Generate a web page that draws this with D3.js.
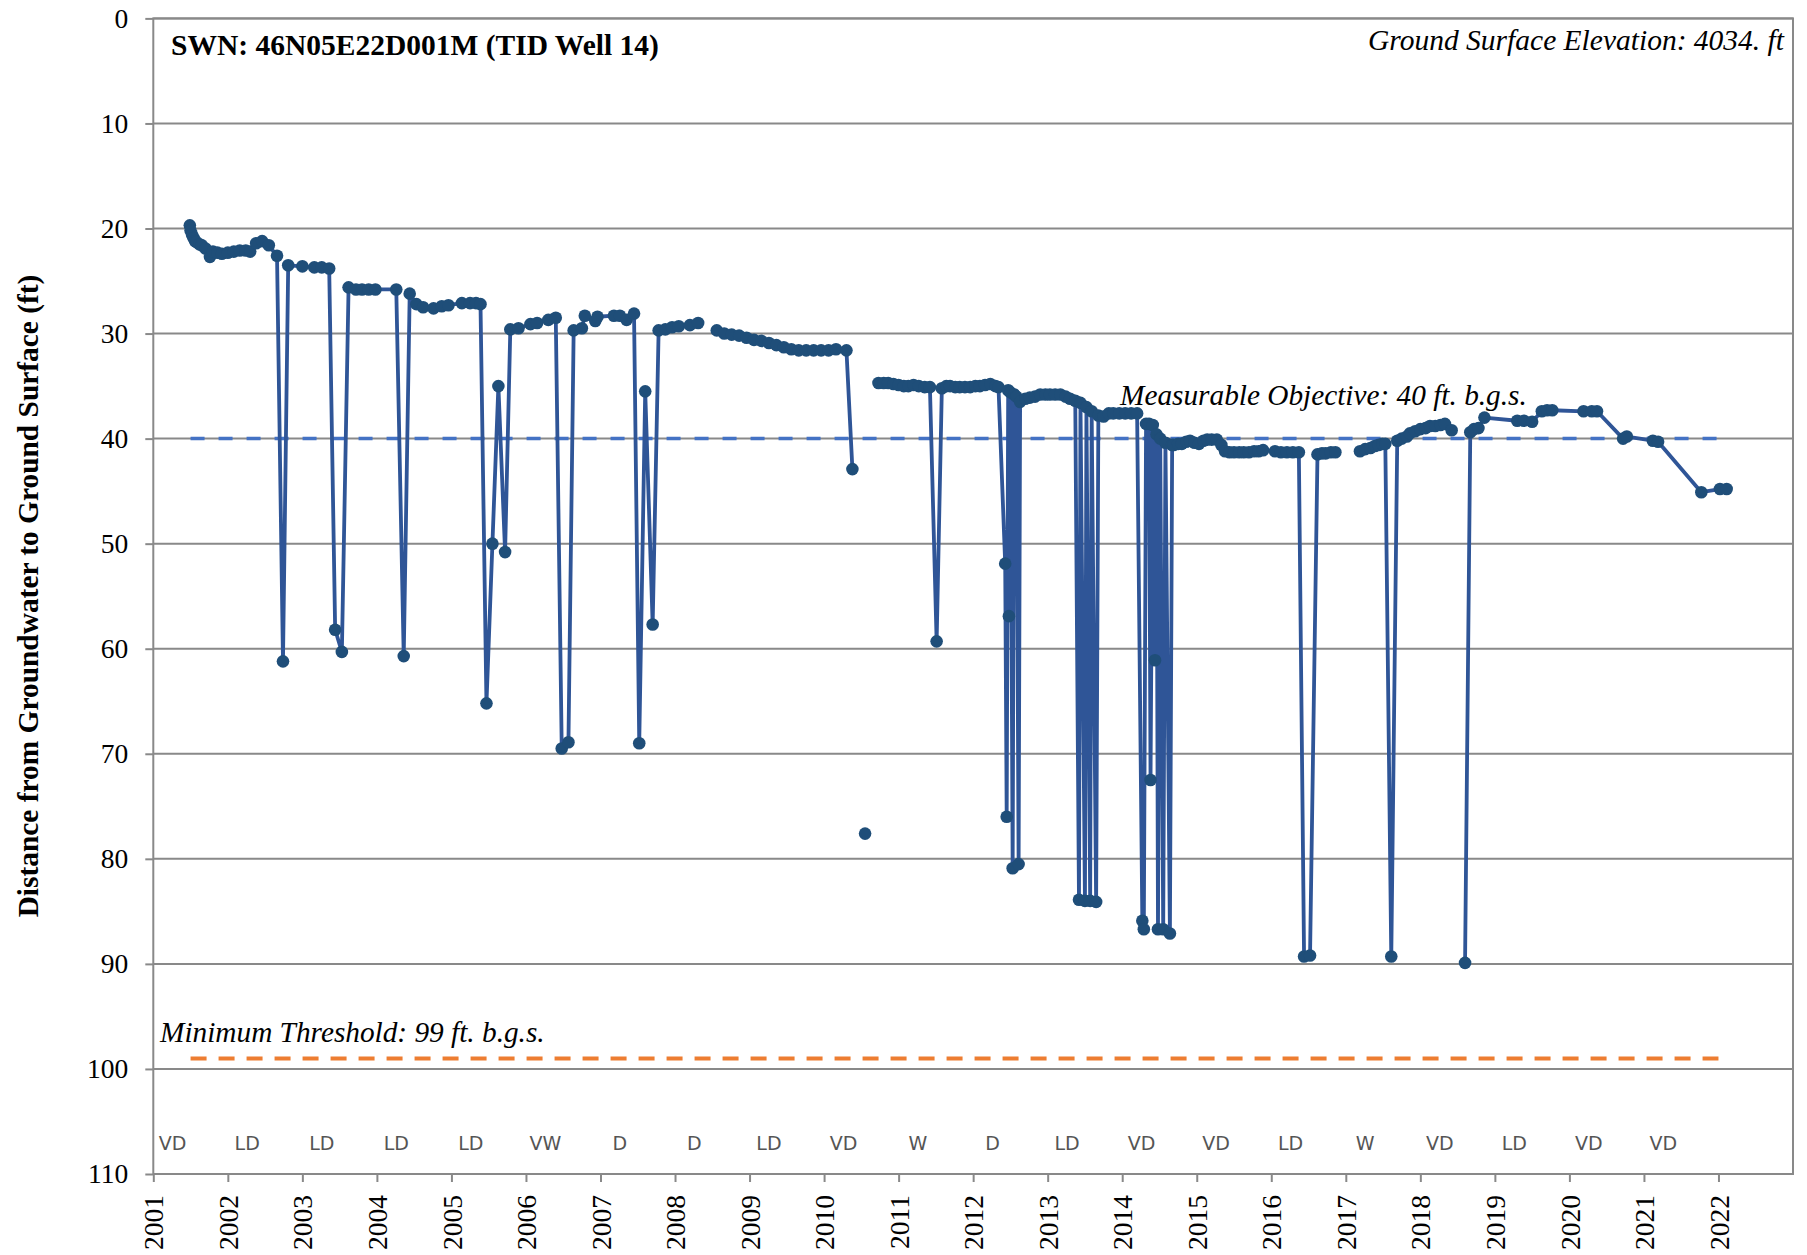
<!DOCTYPE html>
<html>
<head>
<meta charset="utf-8">
<script src="https://cdn.jsdelivr.net/npm/d3@7"></script>
<style>
  html, body { margin: 0; padding: 0; background: #fff; }
  svg { display: block; }
</style>
</head>
<body>
<div id="chart"></div>
<script>
// measurement dates (decimal years) and depths to water (ft b.g.s.); null = break in the record
const obsDates = [
  2001.49, 2001.50, 2001.52, 2001.54, 2001.56, 2001.58, 2001.62, 2001.65, 2001.70, 2001.76,
  2001.80, 2001.86, 2001.92, 2002.00, 2002.08, 2002.16, 2002.24, 2002.30, 2002.38, 2002.46,
  2002.55, 2002.66, 2002.74, 2002.81, 2003.00, 2003.16, 2003.26, 2003.36, 2003.44, 2003.53,
  2003.62, 2003.72, 2003.80, 2003.89, 2003.98, 2004.26, 2004.36, 2004.44, 2004.53, 2004.62,
  2004.76, 2004.87, 2004.96, 2005.14, 2005.25, 2005.33, 2005.39, 2005.47, 2005.55, 2005.63,
  2005.72, 2005.79, 2005.90, 2006.06, 2006.15, 2006.30, 2006.40, 2006.48, 2006.57, 2006.64,
  2006.75, 2006.79, 2006.93, 2006.96, 2007.18, 2007.26, 2007.35, 2007.45, 2007.52, 2007.60,
  2007.70, 2007.78, 2007.87, 2007.96, 2008.05, 2008.20, 2008.31, null,
  2008.56, 2008.66, 2008.76, 2008.86, 2008.96, 2009.06, 2009.16, 2009.26, 2009.36, 2009.46,
  2009.56, 2009.66, 2009.76, 2009.86, 2009.96, 2010.06, 2010.16, 2010.30, 2010.38, null,
  2010.55, null,
  2010.73, 2010.80, 2010.86, 2010.93, 2011.00, 2011.07, 2011.13, 2011.20, 2011.27, 2011.35,
  2011.42, 2011.51, 2011.58, 2011.64, 2011.69, 2011.76, 2011.82, 2011.89, 2011.96, 2012.03,
  2012.09, 2012.16, 2012.23, 2012.30, 2012.34, 2012.43, 2012.45, 2012.47, 2012.48, 2012.50,
  2012.53, 2012.55, 2012.58, 2012.61, 2012.63, 2012.70, 2012.76, 2012.83, 2012.90, 2012.97,
  2013.03, 2013.10, 2013.17, 2013.24, 2013.30, 2013.37, 2013.42, 2013.44, 2013.50, 2013.52,
  2013.57, 2013.59, 2013.65, 2013.68, 2013.75, 2013.82, 2013.88, 2013.96, 2014.04, 2014.12,
  2014.20, 2014.27, 2014.29, 2014.32, 2014.36, 2014.38, 2014.41, 2014.44, 2014.46, 2014.48,
  2014.51, 2014.55, 2014.58, 2014.64, 2014.67, 2014.69, 2014.75, 2014.80, 2014.86, 2014.91,
  2014.97, 2015.03, 2015.09, 2015.14, 2015.20, 2015.27, 2015.33, 2015.38, 2015.44, 2015.50,
  2015.57, 2015.63, 2015.70, 2015.77, 2015.83, 2015.89, null,
  2016.05, 2016.13, 2016.21, 2016.29, 2016.37, 2016.44, 2016.52, 2016.62, 2016.68, 2016.73,
  2016.80, 2016.86, null,
  2017.19, 2017.26, 2017.33, 2017.39, 2017.44, 2017.49, 2017.53, 2017.61, 2017.69, 2017.75,
  2017.82, 2017.86, 2017.93, 2018.00, 2018.07, 2018.13, 2018.20, 2018.27, 2018.33, 2018.42,
  null,
  2018.60, 2018.67, 2018.72, 2018.78, 2018.86, 2019.30, 2019.39, 2019.50, 2019.63, 2019.70,
  2019.77, 2020.19, 2020.30, 2020.37, 2020.72, 2020.77, 2021.12, 2021.19, 2021.77, 2022.02,
  2022.11,
];

const obsDepths = [
  19.7, 20.2, 20.6, 20.9, 21.2, 21.3, 21.5, 21.6, 21.9, 22.7,
  22.2, 22.3, 22.4, 22.3, 22.2, 22.1, 22.1, 22.2, 21.4, 21.2,
  21.6, 22.6, 61.2, 23.5, 23.6, 23.7, 23.7, 23.8, 58.2, 60.3,
  25.6, 25.8, 25.8, 25.8, 25.8, 25.8, 60.7, 26.2, 27.2, 27.5,
  27.6, 27.4, 27.3, 27.1, 27.1, 27.1, 27.2, 65.2, 50.0, 35.0,
  50.8, 29.6, 29.5, 29.1, 29.0, 28.7, 28.5, 69.5, 68.9, 29.7,
  29.5, 28.3, 28.8, 28.4, 28.3, 28.3, 28.7, 28.1, 69.0, 35.5,
  57.7, 29.7, 29.6, 29.4, 29.3, 29.2, 29.0, null,
  29.7, 30.0, 30.1, 30.2, 30.4, 30.6, 30.7, 30.9, 31.1, 31.3,
  31.5, 31.6, 31.6, 31.6, 31.6, 31.6, 31.5, 31.6, 42.9, null,
  77.6, null,
  34.7, 34.7, 34.7, 34.8, 34.9, 35.0, 35.0, 34.9, 35.0, 35.1,
  35.1, 59.3, 35.2, 35.0, 35.0, 35.1, 35.1, 35.1, 35.1, 35.0,
  35.0, 34.9, 34.8, 35.0, 35.1, 51.9, 76.0, 35.4, 56.9, 35.6,
  80.9, 35.8, 36.0, 80.5, 36.5, 36.2, 36.1, 36.0, 35.8, 35.8,
  35.8, 35.8, 35.8, 36.0, 36.2, 36.4, 83.9, 36.6, 84.0, 37.0,
  84.0, 37.4, 84.1, 37.8, 37.9, 37.6, 37.6, 37.6, 37.6, 37.6,
  37.6, 85.9, 86.7, 38.6, 38.6, 72.5, 38.7, 61.1, 39.6, 86.7,
  40.0, 86.7, 40.4, 87.1, 40.6, 40.6, 40.5, 40.5, 40.3, 40.2,
  40.4, 40.5, 40.2, 40.1, 40.1, 40.1, 40.6, 41.2, 41.3, 41.3,
  41.3, 41.3, 41.3, 41.2, 41.2, 41.1, null,
  41.2, 41.3, 41.3, 41.3, 41.3, 89.3, 89.2, 41.5, 41.4, 41.4,
  41.3, 41.3, null,
  41.2, 41.0, 40.9, 40.7, 40.6, 40.5, 40.5, 89.3, 40.2, 40.0,
  39.8, 39.5, 39.3, 39.1, 39.0, 38.8, 38.8, 38.7, 38.6, 39.2,
  null,
  89.9, 39.4, 39.1, 39.0, 38.0, 38.3, 38.3, 38.4, 37.4, 37.3,
  37.3, 37.4, 37.4, 37.4, 40.0, 39.8, 40.2, 40.3, 45.1, 44.8,
  44.8,
];

const yTicks = [0, 10, 20, 30, 40, 50, 60, 70, 80, 90, 100, 110];
const xTicks = [2001, 2002, 2003, 2004, 2005, 2006, 2007, 2008, 2009, 2010, 2011,
  2012, 2013, 2014, 2015, 2016, 2017, 2018, 2019, 2020, 2021, 2022];

const waterYears = [2001, 2002, 2003, 2004, 2005, 2006, 2007, 2008, 2009, 2010, 2011,
  2012, 2013, 2014, 2015, 2016, 2017, 2018, 2019, 2020, 2021];
const waterYearTypes = ['VD', 'LD', 'LD', 'LD', 'LD', 'VW', 'D', 'D', 'LD', 'VD', 'W',
  'D', 'LD', 'VD', 'VD', 'LD', 'W', 'VD', 'LD', 'VD', 'VD'];

const measurableObjective = 40;
const minimumThreshold = 99;
const thresholdSpan = [2001.5, 2022];

const width = 1807;
const height = 1255;
const plotLeft = 153.3;
const plotRight = 1793;
const plotTop = 18.4;
const plotBottom = 1174;

const serif = '"Liberation Serif", "Times New Roman", Times, serif';
const gridColor = '#898989';

const x = d3.scaleLinear().domain([2001, 2023]).range([plotLeft, plotRight]);
const y = d3.scaleLinear().domain([0, 110]).range([plotTop, plotBottom]);

const svg = d3.select('#chart')
  .append('svg')
  .attr('width', width)
  .attr('height', height);

svg.append('rect')
  .attr('width', width)
  .attr('height', height)
  .attr('fill', '#fff');

// gridlines
svg.append('g')
  .selectAll('line')
  .data(yTicks)
  .join('line')
  .attr('x1', plotLeft)
  .attr('x2', plotRight)
  .attr('y1', (d) => y(d))
  .attr('y2', (d) => y(d))
  .attr('stroke', gridColor)
  .attr('stroke-width', 2);

svg.append('rect')
  .attr('x', plotLeft)
  .attr('y', plotTop)
  .attr('width', plotRight - plotLeft)
  .attr('height', plotBottom - plotTop)
  .attr('fill', 'none')
  .attr('stroke', gridColor)
  .attr('stroke-width', 2);

const yAxis = svg.append('g')
  .attr('transform', `translate(${plotLeft},0)`)
  .call(d3.axisLeft(y).tickValues(yTicks).tickSize(8).tickPadding(17));
yAxis.select('.domain').remove();
yAxis.selectAll('line').attr('stroke', gridColor).attr('stroke-width', 2);
yAxis.selectAll('text')
  .attr('font-family', serif)
  .attr('font-size', 27.5)
  .attr('fill', '#000');

const xAxis = svg.append('g')
  .attr('transform', `translate(0,${plotBottom})`)
  .call(d3.axisBottom(x).tickValues(xTicks).tickSize(8).tickFormat(d3.format('d')));
xAxis.select('.domain').remove();
xAxis.selectAll('line').attr('stroke', gridColor).attr('stroke-width', 2);
xAxis.selectAll('text')
  .attr('font-family', serif)
  .attr('font-size', 27.5)
  .attr('fill', '#000')
  .attr('transform', 'rotate(-90)')
  .attr('text-anchor', 'end')
  .attr('x', -21)
  .attr('y', 0)
  .attr('dy', '0.35em');

// threshold lines
svg.append('line')
  .attr('x1', x(thresholdSpan[0]))
  .attr('x2', x(thresholdSpan[1]))
  .attr('y1', y(measurableObjective))
  .attr('y2', y(measurableObjective))
  .attr('stroke', '#4472C4')
  .attr('stroke-width', 3.5)
  .attr('stroke-dasharray', '14,14');

svg.append('line')
  .attr('x1', x(thresholdSpan[0]))
  .attr('x2', x(thresholdSpan[1]))
  .attr('y1', y(minimumThreshold))
  .attr('y2', y(minimumThreshold))
  .attr('stroke', '#ED7D31')
  .attr('stroke-width', 4)
  .attr('stroke-dasharray', '16,12');

const obs = obsDates.map((date, i) => ({ date, depth: obsDepths[i] }));

const line = d3.line()
  .defined((d) => d.depth !== null)
  .x((d) => x(d.date))
  .y((d) => y(d.depth));

svg.append('path')
  .datum(obs)
  .attr('d', line)
  .attr('fill', 'none')
  .attr('stroke', '#2F5597')
  .attr('stroke-width', 3.8)
  .attr('stroke-linejoin', 'round');

svg.append('g')
  .selectAll('circle')
  .data(obs.filter((d) => d.depth !== null))
  .join('circle')
  .attr('cx', (d) => x(d.date))
  .attr('cy', (d) => y(d.depth))
  .attr('r', 6.3)
  .attr('fill', '#1F4E79');

// labels
svg.append('text')
  .attr('x', 171)
  .attr('y', 55)
  .attr('font-family', serif)
  .attr('font-weight', 'bold')
  .attr('font-size', 29.5)
  .text('SWN: 46N05E22D001M (TID Well 14)');

svg.append('text')
  .attr('x', 1784)
  .attr('y', 50)
  .attr('text-anchor', 'end')
  .attr('font-family', serif)
  .attr('font-style', 'italic')
  .attr('font-size', 29.5)
  .text('Ground Surface Elevation: 4034. ft');

svg.append('text')
  .attr('x', 1120)
  .attr('y', y(measurableObjective) - 34)
  .attr('font-family', serif)
  .attr('font-style', 'italic')
  .attr('font-size', 29.3)
  .text(`Measurable Objective: ${measurableObjective} ft. b.g.s.`);

svg.append('text')
  .attr('x', 160)
  .attr('y', y(minimumThreshold) - 16)
  .attr('font-family', serif)
  .attr('font-style', 'italic')
  .attr('font-size', 29.3)
  .text(`Minimum Threshold: ${minimumThreshold} ft. b.g.s.`);

svg.append('text')
  .attr('transform', 'translate(28,596) rotate(-90)')
  .attr('text-anchor', 'middle')
  .attr('dy', '0.35em')
  .attr('font-family', serif)
  .attr('font-weight', 'bold')
  .attr('font-size', 29.4)
  .text('Distance from Groundwater to Ground Surface (ft)');

svg.append('g')
  .selectAll('text')
  .data(waterYears)
  .join('text')
  .attr('x', (d) => x(d + 0.26))
  .attr('y', 1150)
  .attr('text-anchor', 'middle')
  .attr('font-family', '"DejaVu Sans", sans-serif')
  .attr('font-size', 19)
  .attr('fill', '#555')
  .text((d, i) => waterYearTypes[i]);
</script>
</body>
</html>
